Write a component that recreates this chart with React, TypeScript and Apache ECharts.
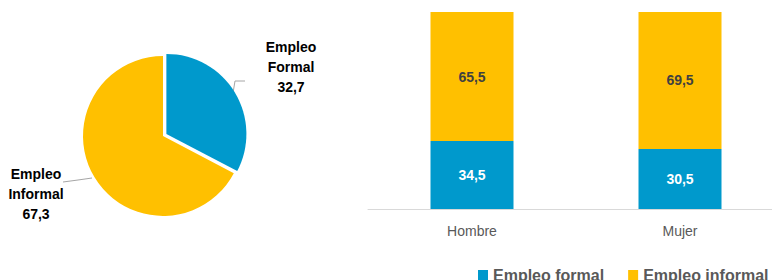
import React, { useEffect, useRef } from "react";
import * as echarts from "echarts";

const pieNames = ["Empleo Formal", "Empleo Informal"];
const pieValues = [32.7, 67.3];
const categories = ["Hombre", "Mujer"];
const formalValues = [34.5, 30.5];
const informalValues = [65.5, 69.5];
const seriesNames = ["Empleo formal", "Empleo informal"];

const BLUE = "#0099CC";
const YELLOW = "#FFC000";
const FONT = "Arial, 'Liberation Sans', sans-serif";

const fmt = (v: number) => String(v.toFixed(1)).replace(".", ",");

// label anchor + leader line for each pie slice
const pieLabelLayouts = [
  { x: 291, y: 67, line: [[233, 93], [235, 81], [245, 81]] },
  { x: 36, y: 194, line: [[92, 178], [78, 180], [63, 182]] },
];

function pieSeries(visibleIndex: number, center: number[]) {
  return {
    type: "pie",
    center,
    radius: 80,
    startAngle: 90,
    silent: true,
    data: pieNames.map((n, i) => ({
      name: n,
      value: pieValues[i],
      itemStyle: { color: i === visibleIndex ? (i === 0 ? BLUE : YELLOW) : "rgba(0,0,0,0)" },
      label: { show: i === visibleIndex },
      labelLine: { show: i === visibleIndex },
    })),
    label: {
      fontSize: 14,
      fontWeight: "bold",
      color: "#000",
      lineHeight: 20,
      align: "center",
      overflow: "none",
      fontFamily: FONT,
      formatter: (p: any) => p.name.replace(" ", "\n") + "\n" + fmt(p.value),
    },
    labelLine: { lineStyle: { color: "#a6a6a6", width: 1 } },
    labelLayout: (p: any) => {
      const l = pieLabelLayouts[p.dataIndex];
      return {
        x: l.x,
        y: l.y,
        align: "center",
        verticalAlign: "middle",
        labelLinePoints: l.line,
      };
    },
    emphasis: { disabled: true },
  };
}

export default function App() {
  const ref = useRef<HTMLDivElement>(null);
  useEffect(() => {
    document.body.style.margin = "0";
    const chart = echarts.init(ref.current!, undefined, { renderer: "svg" });
    chart.setOption({
      animation: false,
      textStyle: { fontFamily: FONT },
      legend: {
        data: seriesNames,
        left: 473,
        top: 262,
        width: 330,
        itemWidth: 10,
        itemHeight: 10,
        itemGap: 24,
        icon: "rect",
        selectedMode: false,
        textStyle: { fontSize: 16, fontWeight: "bold", color: "#595959", fontFamily: FONT },
      },
      grid: { left: 368, width: 416, top: 12, bottom: 71, outerBoundsMode: "none" },
      xAxis: {
        type: "category",
        data: categories,
        axisLine: { lineStyle: { color: "#d9d9d9", width: 1 } },
        axisTick: { show: false },
        axisLabel: { color: "#595959", fontSize: 14, margin: 15, fontFamily: FONT },
      },
      yAxis: {
        type: "value",
        min: 0,
        max: 100,
        show: false,
        splitLine: { show: false },
      },
      series: [
        pieSeries(1, [163, 136]),
        pieSeries(0, [166.4, 133.9]),
        {
          type: "bar",
          name: seriesNames[0],
          stack: "a",
          data: formalValues,
          barWidth: 83,
          itemStyle: { color: BLUE },
          label: {
            show: true,
            position: "inside",
            color: "#fff",
            fontSize: 14,
            fontWeight: "bold",
            fontFamily: FONT,
            formatter: (p: any) => fmt(p.value),
          },
        },
        {
          type: "bar",
          name: seriesNames[1],
          stack: "a",
          data: informalValues,
          barWidth: 83,
          itemStyle: { color: YELLOW },
          label: {
            show: true,
            position: "inside",
            color: "#404040",
            fontSize: 14,
            fontWeight: "bold",
            fontFamily: FONT,
            formatter: (p: any) => fmt(p.value),
          },
        },
      ],
    });
    return () => chart.dispose();
  }, []);
  return <div ref={ref} style={{ width: 772, height: 280 }} />;
}
